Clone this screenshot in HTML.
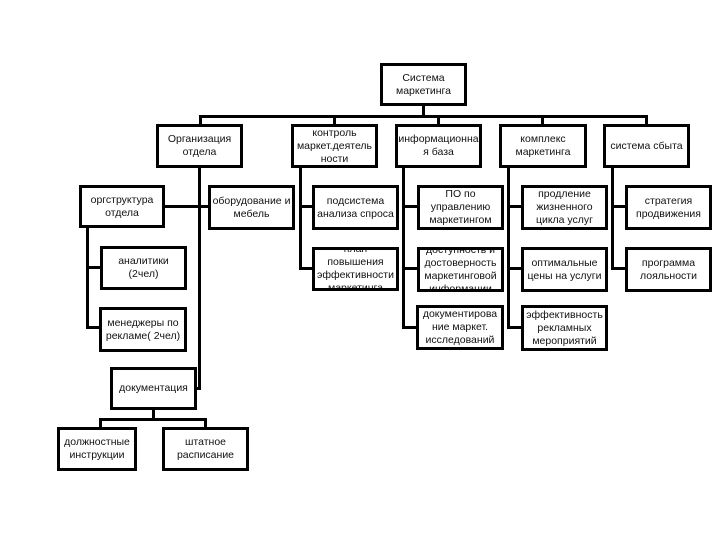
<!DOCTYPE html>
<html><head><meta charset="utf-8"><style>
body{margin:0;width:714px;height:537px;background:#fff;position:relative;overflow:hidden;font-family:"Liberation Sans",sans-serif;}
.b{position:absolute;box-sizing:border-box;border:3px solid #000;background:#fff;display:flex;align-items:center;justify-content:center;text-align:center;font-size:10.5px;line-height:13px;overflow:hidden;color:#111;}
.l{position:absolute;background:#000;}
</style></head><body>
<!-- lines -->
<div class="l" style="left:422px;top:104px;width:3px;height:13px"></div>
<div class="l" style="left:199px;top:115px;width:449px;height:3px"></div>
<div class="l" style="left:199px;top:115px;width:3px;height:10px"></div>
<div class="l" style="left:333px;top:115px;width:3px;height:10px"></div>
<div class="l" style="left:437px;top:115px;width:3px;height:10px"></div>
<div class="l" style="left:541px;top:115px;width:3px;height:10px"></div>
<div class="l" style="left:645px;top:115px;width:3px;height:10px"></div>
<!-- org trunk -->
<div class="l" style="left:198px;top:166px;width:3px;height:224px"></div>
<div class="l" style="left:163px;top:205px;width:46px;height:3px"></div>
<div class="l" style="left:195px;top:387px;width:6px;height:3px"></div>
<div class="l" style="left:86px;top:226px;width:3px;height:103px"></div>
<div class="l" style="left:86px;top:266px;width:15px;height:3px"></div>
<div class="l" style="left:86px;top:326px;width:14px;height:3px"></div>
<div class="l" style="left:152px;top:408px;width:3px;height:12px"></div>
<div class="l" style="left:99px;top:418px;width:107px;height:3px"></div>
<div class="l" style="left:99px;top:418px;width:3px;height:10px"></div>
<div class="l" style="left:204px;top:418px;width:3px;height:10px"></div>
<!-- control -->
<div class="l" style="left:299px;top:166px;width:3px;height:104px"></div>
<div class="l" style="left:299px;top:205px;width:14px;height:3px"></div>
<div class="l" style="left:299px;top:267px;width:14px;height:3px"></div>
<!-- info -->
<div class="l" style="left:402px;top:166px;width:3px;height:163px"></div>
<div class="l" style="left:402px;top:205px;width:16px;height:3px"></div>
<div class="l" style="left:402px;top:267px;width:16px;height:3px"></div>
<div class="l" style="left:402px;top:326px;width:16px;height:3px"></div>
<!-- complex -->
<div class="l" style="left:507px;top:166px;width:3px;height:163px"></div>
<div class="l" style="left:507px;top:205px;width:15px;height:3px"></div>
<div class="l" style="left:507px;top:267px;width:15px;height:3px"></div>
<div class="l" style="left:507px;top:326px;width:15px;height:3px"></div>
<!-- sales -->
<div class="l" style="left:611px;top:166px;width:3px;height:104px"></div>
<div class="l" style="left:611px;top:205px;width:15px;height:3px"></div>
<div class="l" style="left:611px;top:267px;width:15px;height:3px"></div>

<div class="b" style="left:380px;top:63px;width:87px;height:43px">Система<br>маркетинга</div>
<div class="b" style="left:156px;top:124px;width:87px;height:44px">Организация<br>отдела</div>
<div class="b" style="left:291px;top:124px;width:87px;height:44px">контроль<br>маркет.деятель<br>ности</div>
<div class="b" style="left:395px;top:124px;width:87px;height:44px">информационна<br>я база</div>
<div class="b" style="left:499px;top:124px;width:88px;height:44px">комплекс<br>маркетинга</div>
<div class="b" style="left:603px;top:124px;width:87px;height:44px">система сбыта</div>

<div class="b" style="left:79px;top:185px;width:86px;height:43px">оргструктура<br>отдела</div>
<div class="b" style="left:208px;top:185px;width:87px;height:45px">оборудование и<br>мебель</div>
<div class="b" style="left:100px;top:246px;width:87px;height:44px">аналитики<br>(2чел)</div>
<div class="b" style="left:99px;top:307px;width:88px;height:45px">менеджеры по<br>рекламе( 2чел)</div>
<div class="b" style="left:110px;top:367px;width:87px;height:43px">документация</div>
<div class="b" style="left:57px;top:427px;width:80px;height:44px">должностные<br>инструкции</div>
<div class="b" style="left:162px;top:427px;width:87px;height:44px">штатное<br>расписание</div>

<div class="b" style="left:312px;top:185px;width:87px;height:45px">подсистема<br>анализа спроса</div>
<div class="b" style="left:312px;top:247px;width:87px;height:44px">план<br>повышения<br>эффективности<br>маркетинга</div>

<div class="b" style="left:417px;top:185px;width:87px;height:45px">ПО по<br>управлению<br>маркетингом</div>
<div class="b" style="left:417px;top:247px;width:87px;height:45px">доступность и<br>достоверность<br>маркетинговой<br>информации</div>
<div class="b" style="left:416px;top:305px;width:88px;height:45px">документирова<br>ние маркет.<br>исследований</div>

<div class="b" style="left:521px;top:185px;width:87px;height:45px">продление<br>жизненного<br>цикла услуг</div>
<div class="b" style="left:521px;top:247px;width:87px;height:45px">оптимальные<br>цены на услуги</div>
<div class="b" style="left:521px;top:305px;width:87px;height:46px">эффективность<br>рекламных<br>мероприятий</div>

<div class="b" style="left:625px;top:185px;width:87px;height:45px">стратегия<br>продвижения</div>
<div class="b" style="left:625px;top:247px;width:87px;height:45px">программа<br>лояльности</div>
</body></html>
